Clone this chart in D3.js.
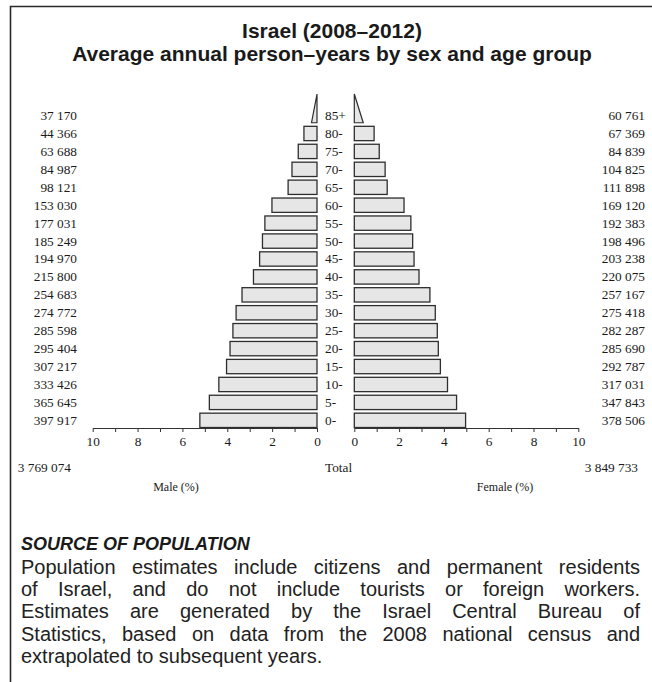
<!DOCTYPE html>
<html><head><meta charset="utf-8">
<script src="https://cdn.jsdelivr.net/npm/d3@7"></script>
<style>body{margin:0;background:#fff} svg{display:block}</style>
</head><body>
<svg id="c" width="652" height="682"></svg>
<script>
// ---- data ----
const ageGroups = ["0-","5-","10-","15-","20-","25-","30-","35-","40-","45-","50-","55-","60-","65-","70-","75-","80-","85+"];
const maleCounts = [397917,365645,333426,307217,295404,285598,274772,254683,215800,194970,185249,177031,153030,98121,84987,63688,44366,37170];
const femaleCounts = [378506,347843,317031,292787,285690,282287,275418,257167,220075,203238,198496,192383,169120,111898,104825,84839,67369,60761];
const maleTotal = 3769074;
const femaleTotal = 3849733;
const tickValues = [0,1,2,3,4,5,6,7,8,9,10];
const titleLines = ["Israel (2008\u20132012)", "Average annual person\u2013years by sex and age group"];
const sourceHeading = "SOURCE OF POPULATION";
const sourceLines = [
  "Population estimates include citizens and permanent residents",
  "of Israel, and do not include tourists or foreign workers.",
  "Estimates are generated by the Israel Central Bureau of",
  "Statistics, based on data from the 2008 national census and",
  "extrapolated to subsequent years."
];

const svg = d3.select("#c");
const serif = "'Liberation Serif','Times New Roman',serif";
const sans = "'Liberation Sans',Arial,Helvetica,sans-serif";
const fmt = d3.formatLocale({decimal:".", thousands:"\u2009", grouping:[3], currency:["",""]}).format(",d");
const fmtNum = d => fmt(d).replace(/\u2009/g, " ");

// frame
svg.append("path").attr("d","M652,6.5H10.5V682").attr("fill","none").attr("stroke","#2a2a2a").attr("stroke-width",1.6);

// title
svg.append("g").selectAll("text").data(titleLines).join("text")
  .attr("x",332).attr("y",(d,i)=>37.5+i*23.5)
  .attr("text-anchor","middle").attr("font-family",sans).attr("font-weight","bold")
  .attr("font-size",21).attr("fill","#1a1a1a").text(d=>d);

// scales
const grand = maleTotal + femaleTotal;
const pct = v => v / grand * 100;
const y = d3.scaleBand().domain(ageGroups.slice().reverse()).range([106.6, 429.3]).paddingInner(0.2).paddingOuter(0.1);
const xL = d3.scaleLinear().domain([0,10]).range([317,92.7]);
const xR = d3.scaleLinear().domain([0,10]).range([354.3,578.3]);
const bw = y.bandwidth();

const barFill = "#e6e6e6", barStroke = "#2e2e2e";
const rows = ageGroups.map((a,i)=>({age:a, m:maleCounts[i], f:femaleCounts[i]}));
const normal = rows.filter(r=>r.age!=="85+");
const topRow = rows.find(r=>r.age==="85+");

const gb = svg.append("g");
gb.selectAll("rect.m").data(normal).join("rect")
  .attr("x",d=>xL(pct(d.m))).attr("y",d=>y(d.age))
  .attr("width",d=>xL(0)-xL(pct(d.m))).attr("height",bw)
  .attr("fill",barFill).attr("stroke",barStroke).attr("stroke-width",1.3);
gb.selectAll("rect.f").data(normal).join("rect")
  .attr("x",xR(0)).attr("y",d=>y(d.age))
  .attr("width",d=>xR(pct(d.f))-xR(0)).attr("height",bw)
  .attr("fill",barFill).attr("stroke",barStroke).attr("stroke-width",1.3);

// open-ended top group drawn as triangles
const tb = y(topRow.age)+bw, tt = tb - 2*bw;
gb.append("path")
  .attr("d",`M${xL(0)},${tb}L${xL(0)},${tt}L${xL(pct(topRow.m)/2)},${tb}Z`)
  .attr("fill",barFill).attr("stroke",barStroke).attr("stroke-width",1.2);
gb.append("path")
  .attr("d",`M${xR(0)},${tb}L${xR(0)},${tt}L${xR(pct(topRow.f)/2)},${tb}Z`)
  .attr("fill",barFill).attr("stroke",barStroke).attr("stroke-width",1.2);

// labels
const lab = svg.append("g").attr("font-family",serif).attr("font-size",13.3).attr("fill","#1a1a1a");
lab.selectAll("text.age").data(rows).join("text")
  .attr("x",325).attr("y",d=>y(d.age)+bw/2+4.5).text(d=>d.age);
lab.selectAll("text.ml").data(rows).join("text")
  .attr("x",77).attr("y",d=>y(d.age)+bw/2+4.5).attr("text-anchor","end").text(d=>fmtNum(d.m));
lab.selectAll("text.fl").data(rows).join("text")
  .attr("x",645).attr("y",d=>y(d.age)+bw/2+4.5).attr("text-anchor","end").text(d=>fmtNum(d.f));

// axes
const axisY = y("0-")+bw+0.5;
function styleAxis(g){
  g.select(".domain").attr("stroke","#333").attr("stroke-width",1.2);
  g.selectAll(".tick line").attr("stroke","#333").attr("stroke-width",1);
  g.selectAll(".tick text").attr("font-family",serif).attr("font-size",13.3).attr("fill","#1a1a1a");
}
svg.append("g").attr("transform",`translate(0,${axisY})`)
  .call(d3.axisBottom(xL).tickValues(tickValues).tickSize(4).tickSizeOuter(0).tickPadding(5).tickFormat(d=>d%2===0?d:""))
  .call(styleAxis);
svg.append("g").attr("transform",`translate(0,${axisY})`)
  .call(d3.axisBottom(xR).tickValues(tickValues).tickSize(4).tickSizeOuter(0).tickPadding(5).tickFormat(d=>d%2===0?d:""))
  .call(styleAxis);

// totals & axis titles
lab.append("text").attr("x",71).attr("y",472).attr("text-anchor","end").text(fmtNum(maleTotal));
lab.append("text").attr("x",325).attr("y",472).text("Total");
lab.append("text").attr("x",638).attr("y",472).attr("text-anchor","end").text(fmtNum(femaleTotal));
lab.append("text").attr("x",176).attr("y",491).attr("text-anchor","middle").attr("font-size",12).text("Male (%)");
lab.append("text").attr("x",505).attr("y",491).attr("text-anchor","middle").attr("font-size",12).text("Female (%)");

// source text
const left = 21, right = 640;
svg.append("text").attr("x",left).attr("y",550).attr("font-family",sans).attr("font-weight","bold")
  .attr("font-style","italic").attr("font-size",18).attr("fill","#1a1a1a").text(sourceHeading);
const body = svg.append("g").attr("font-family",sans).attr("font-size",20).attr("fill","#222");
sourceLines.forEach((s,i)=>{
  const t = body.append("text").attr("x",left).attr("y",574+i*22.2).text(s);
  if(i < sourceLines.length-1){
    const w = t.node().getComputedTextLength();
    const n = (s.match(/ /g)||[]).length;
    if(n>0) t.attr("word-spacing", (right-left-w)/n);
  }
});
</script>
</body></html>
